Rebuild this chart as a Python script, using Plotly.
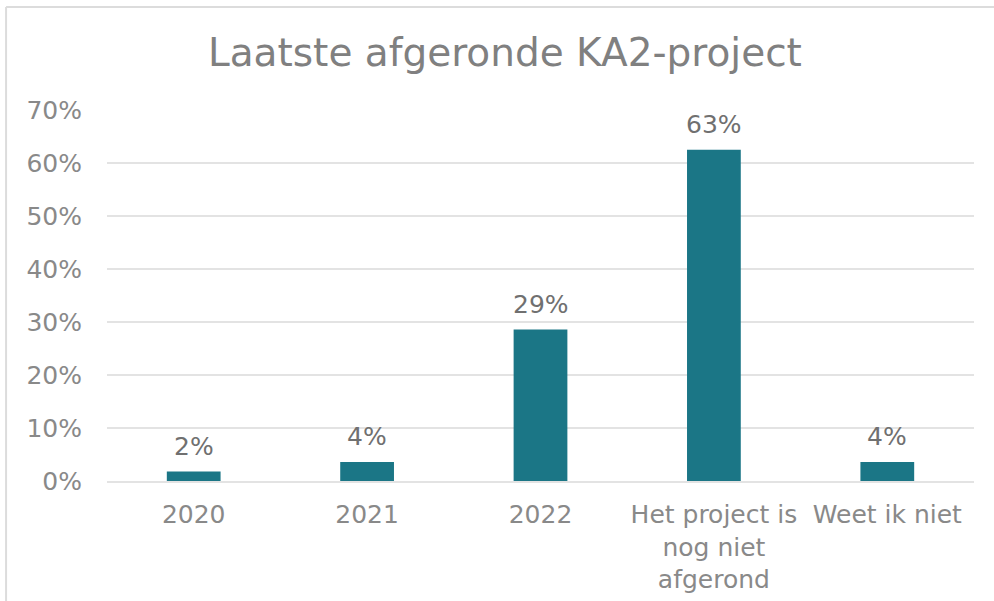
import plotly.graph_objects as go

categories = ["2020", "2021", "2022", "Het project is<br>nog niet<br>afgerond", "Weet ik niet"]
values = [0.0179, 0.0357, 0.2857, 0.625, 0.0357]
labels = ["2%", "4%", "29%", "63%", "4%"]
y_ticks = [0, 0.1, 0.2, 0.3, 0.4, 0.5, 0.6, 0.7]
y_tick_labels = ["0%", "10%", "20%", "30%", "40%", "50%", "60%", "70%"]

FONT = "DejaVu Sans"
BAR = "#1B7686"

pos = list(range(len(categories)))

fig = go.Figure()
fig.add_trace(go.Bar(
    x=pos, y=values, width=0.31,
    marker=dict(color=BAR, line=dict(width=0)),
    hoverinfo="skip",
))

for p, v, t in zip(pos, values, labels):
    fig.add_annotation(x=p, y=v, text=t, showarrow=False, yanchor="bottom",
                       yshift=9, font=dict(family=FONT, size=25, color="#707070"))

fig.update_layout(
    width=994, height=601,
    margin=dict(l=107, r=20, t=110, b=120),
    paper_bgcolor="white", plot_bgcolor="white",
    showlegend=False,
    title=dict(text="Laatste afgeronde KA2-project", x=0.508, xanchor="center",
               y=0.913, yanchor="middle",
               font=dict(family=FONT, size=39, color="#808080")),
)
fig.update_xaxes(range=[-0.5, len(categories) - 0.5], tickvals=pos, ticktext=categories,
                 automargin=False,
                 showgrid=False, showline=True, linecolor="#e3e3e3", linewidth=2,
                 zeroline=False, ticks="", tickfont=dict(family=FONT, size=25, color="#898989"),
                 ticklabelstandoff=10)
fig.update_yaxes(range=[0, 0.7], tickvals=y_ticks, ticktext=y_tick_labels,
                 automargin=False,
                 showgrid=True, gridcolor="#e3e3e3", gridwidth=2, zeroline=False,
                 showline=False, ticks="", ticklabelstandoff=24,
                 tickfont=dict(family=FONT, size=25, color="#898989"))

fig.add_shape(type="line", xref="paper", yref="paper", x0=-0.1164, x1=1.03, y0=1.2776, y1=1.2776,
              line=dict(color="#dcdcdc", width=2))
fig.add_shape(type="line", xref="paper", yref="paper", x0=-0.1164, x1=-0.1164, y0=1.2776, y1=-0.5,
              line=dict(color="#dcdcdc", width=2))

fig.write_html("out.html", config={"displayModeBar": False},
               post_script="document.body.style.margin='0';")
